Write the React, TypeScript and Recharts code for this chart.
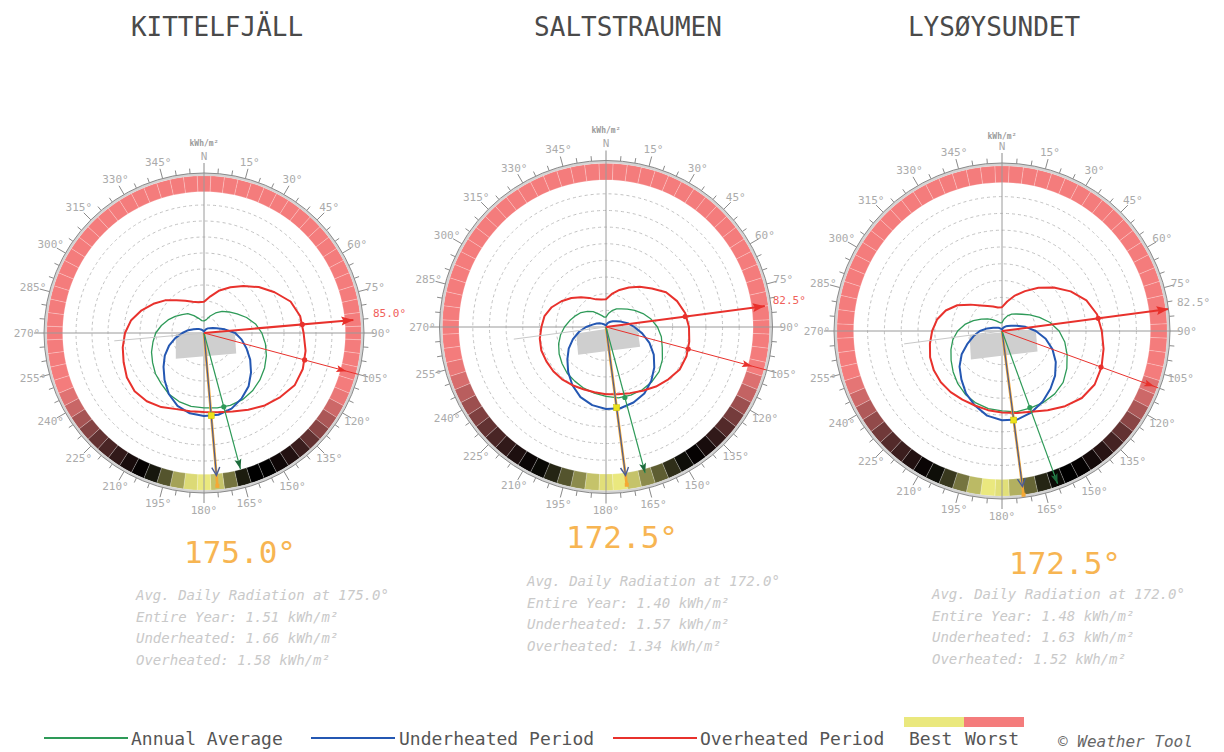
import React from 'react';
import {
  RadarChart,
  Radar,
  PolarGrid,
  PolarAngleAxis,
  PolarRadiusAxis,
  PieChart,
  Pie,
  Cell,
} from 'recharts';

const FONT = '"DejaVu Sans Mono", "Liberation Mono", monospace';

// compass bearings on the angle axis, 2.5° apart, clockwise from north
const bearings = Array.from({ length: 144 }, (_, i) => i * 2.5);
// curves are read every 10°, the colour ring every 5°
const CURVE_STEP = 10;
const RING_STEP = 5;
const RADIUS_MAX = 3;
const RING_INNER = 2.65;
const RING_OUTER = 2.95;
const radiusTicks = [0.3, 0.6, 0.9, 1.2, 1.5, 1.8, 2.1, 2.4, 2.7];
const gridCircles = [0.3, 0.6, 0.9, 1.2, 1.5, 1.8, 2.1, 2.4];

// ---- Kittelfjäll ----
const kittelAnnual = [0.24, 0.27, 0.36, 0.46, 0.56, 0.65, 0.76, 0.9, 1.04, 1.15, 1.24, 1.32, 1.39, 1.45, 1.5, 1.53, 1.53, 1.51, 1.49, 1.48, 1.45, 1.4, 1.32, 1.26, 1.18, 1.11, 1.03, 0.96, 0.86, 0.76, 0.66, 0.57, 0.5, 0.4, 0.31, 0.25];
const kittelUnder = [0.02, 0.04, 0.06, 0.09, 0.12, 0.15, 0.2, 0.27, 0.42, 0.62, 0.76, 0.9, 1.06, 1.22, 1.38, 1.5, 1.6, 1.65, 1.65, 1.62, 1.54, 1.4, 1.22, 1.05, 0.9, 0.74, 0.58, 0.43, 0.32, 0.22, 0.16, 0.12, 0.09, 0.07, 0.05, 0.03];
const kittelOver = [0.62, 0.74, 0.9, 1.05, 1.22, 1.42, 1.62, 1.83, 1.94, 1.98, 2.05, 2.09, 2.08, 1.98, 1.88, 1.76, 1.66, 1.6, 1.57, 1.58, 1.61, 1.7, 1.77, 1.8, 1.77, 1.7, 1.64, 1.57, 1.47, 1.32, 1.16, 1.01, 0.85, 0.74, 0.66, 0.62];
// 0 = worst, 1 = best, one value per 5°
const kittelRing = [
  0, 0, 0, 0, 0, 0, 0, 0, 0, 0, 0, 0, 0, 0, 0, 0, 0, 0, 0, 0, 0, 0, 0,
  0.02, 0.08, 0.15, 0.22, 0.3, 0.38, 0.43, 0.47, 0.5, 0.5, 0.56, 0.75, 0.92, 1, 0.97, 0.85, 0.68, 0.55, 0.49, 0.45, 0.4, 0.35, 0.3, 0.23, 0.16, 0.09, 0.04,
  0, 0, 0, 0, 0, 0, 0, 0, 0, 0, 0, 0, 0, 0, 0, 0, 0, 0, 0, 0, 0, 0,
];
const kittelShape = [[87.5, 0.61], [122.5, 0.76], [227.5, 0.76], [270, 0.56]];
// gray, orange, blue, green, thin red, thick red  -> [bearing, length]
const kittelRays = [[265, 1.79], [175, 3.05], [175, 2.84], [165, 2.8], [105, 3.18], [85, 2.98]];
// red dot, red dot, green dot, yellow square, red head, red head, green head, blue head, orange end
const kittelMarks = [[85, 1.96], [105, 2.07], [165, 1.52], [175, 1.65], [85, 2.98], [105, 2.93], [165, 2.8], [175, 2.84], [175, 3.05]];

// ---- Saltstraumen ----
const saltAnnual = [0.19, 0.26, 0.33, 0.4, 0.45, 0.53, 0.63, 0.75, 0.87, 0.98, 1.07, 1.14, 1.24, 1.32, 1.36, 1.38, 1.38, 1.37, 1.32, 1.28, 1.24, 1.19, 1.15, 1.09, 1.03, 0.96, 0.88, 0.79, 0.7, 0.62, 0.55, 0.46, 0.38, 0.29, 0.23, 0.19];
const saltUnder = [0.02, 0.04, 0.07, 0.1, 0.13, 0.17, 0.22, 0.3, 0.42, 0.54, 0.7, 0.88, 1.05, 1.2, 1.34, 1.46, 1.53, 1.57, 1.56, 1.51, 1.42, 1.28, 1.12, 0.96, 0.82, 0.67, 0.52, 0.38, 0.26, 0.19, 0.14, 0.1, 0.07, 0.05, 0.04, 0.03];
const saltOver = [0.53, 0.64, 0.75, 0.87, 1.0, 1.14, 1.32, 1.44, 1.53, 1.58, 1.61, 1.63, 1.62, 1.55, 1.48, 1.4, 1.34, 1.3, 1.28, 1.26, 1.26, 1.28, 1.3, 1.31, 1.31, 1.31, 1.28, 1.23, 1.19, 1.1, 0.98, 0.86, 0.74, 0.64, 0.56, 0.53];
const saltRing = [
  0, 0, 0, 0, 0, 0, 0, 0, 0, 0, 0, 0, 0, 0, 0, 0, 0, 0, 0, 0, 0, 0,
  0.05, 0.1, 0.18, 0.26, 0.33, 0.4, 0.45, 0.49, 0.53, 0.6, 0.7, 0.8, 0.92, 1, 0.98, 0.92, 0.8, 0.68, 0.58, 0.52, 0.48, 0.44, 0.4, 0.35, 0.3, 0.24, 0.18, 0.12, 0.06, 0.02,
  0, 0, 0, 0, 0, 0, 0, 0, 0, 0, 0, 0, 0, 0, 0, 0, 0, 0, 0, 0,
];
const saltShape = [[85, 0.59], [120, 0.75], [225, 0.75], [257.5, 0.58]];
const saltRays = [[262.5, 1.77], [172.5, 3.03], [172.5, 2.85], [165, 2.88], [105, 3.17], [82.5, 3.05]];
const saltMarks = [[82.5, 1.52], [105, 1.62], [165, 1.39], [172.5, 1.55], [82.5, 3.05], [105, 2.88], [165, 2.88], [172.5, 2.85], [172.5, 3.03]];

// ---- Lysøysundet ----
const lysoAnnual = [0.15, 0.22, 0.29, 0.35, 0.4, 0.47, 0.58, 0.72, 0.88, 1.03, 1.15, 1.25, 1.35, 1.44, 1.48, 1.49, 1.48, 1.48, 1.44, 1.42, 1.38, 1.32, 1.24, 1.15, 1.06, 0.98, 0.9, 0.8, 0.68, 0.55, 0.43, 0.34, 0.27, 0.21, 0.17, 0.15];
const lysoUnder = [0.02, 0.04, 0.06, 0.08, 0.11, 0.14, 0.19, 0.28, 0.43, 0.61, 0.8, 0.97, 1.12, 1.25, 1.36, 1.47, 1.56, 1.62, 1.61, 1.55, 1.43, 1.3, 1.14, 1.0, 0.84, 0.66, 0.52, 0.4, 0.27, 0.17, 0.12, 0.09, 0.07, 0.05, 0.04, 0.03];
const lysoOver = [0.43, 0.54, 0.68, 0.83, 1.02, 1.22, 1.43, 1.62, 1.74, 1.8, 1.86, 1.91, 1.93, 1.88, 1.77, 1.65, 1.55, 1.5, 1.47, 1.45, 1.43, 1.43, 1.44, 1.44, 1.42, 1.38, 1.32, 1.26, 1.19, 1.08, 0.93, 0.74, 0.6, 0.52, 0.47, 0.43];
const lysoRing = [
  0, 0, 0, 0, 0, 0, 0, 0, 0, 0, 0, 0, 0, 0, 0, 0, 0, 0, 0, 0, 0, 0,
  0.04, 0.08, 0.15, 0.22, 0.3, 0.36, 0.42, 0.46, 0.49, 0.5, 0.52, 0.58, 0.72, 0.88, 0.98, 1, 0.9, 0.75, 0.62, 0.53, 0.48, 0.43, 0.38, 0.33, 0.27, 0.2, 0.14, 0.08, 0.03,
  0, 0, 0, 0, 0, 0, 0, 0, 0, 0, 0, 0, 0, 0, 0, 0, 0, 0, 0, 0, 0,
];
const lysoShape = [[87.5, 0.61], [120, 0.74], [227.5, 0.76], [262.5, 0.59]];
const lysoRays = [[262.5, 1.78], [172.5, 2.98], [172.5, 2.83], [160, 2.93], [110, 3.0], [82.5, 3.03]];
const lysoMarks = [[82.5, 1.75], [110, 1.9], [160, 1.47], [172.5, 1.62], [82.5, 3.03], [110, 2.92], [160, 2.93], [172.5, 2.83], [172.5, 2.98]];

const RED = '#e8312c';
const BLUE = '#2457b2';
const GREEN = '#2e9a58';
const ORANGE = '#f5a834';

const RAY_STYLES = [
  { color: '#c8c8c8', width: 1 },
  { color: ORANGE, width: 2.6 },
  { color: '#4a5d95', width: 1.2 },
  { color: GREEN, width: 1.2 },
  { color: RED, width: 1 },
  { color: RED, width: 2 },
];
const MARK_STYLES = [
  { kind: 'dot', color: RED },
  { kind: 'dot', color: RED },
  { kind: 'dot', color: GREEN },
  { kind: 'square', color: '#ece21c' },
  { kind: 'head', color: RED, len: 12, half: 4.5, label: true },
  { kind: 'head', color: RED, len: 10, half: 3.5 },
  { kind: 'head', color: '#1d6b3c', len: 10, half: 3.5 },
  { kind: 'vee', color: '#4a5d95' },
  { kind: 'end', color: ORANGE },
];

const sites = [
  {
    name: 'KITTELFJÄLL', cx: 204, cy: 333, R: 160, titleX: 217, unitY: 143, labelR: 3.18, labelColor: '#f0605a',
    annual: kittelAnnual, under: kittelUnder, over: kittelOver, ring: kittelRing,
    shape: kittelShape, rays: kittelRays, marks: kittelMarks,
    best: 175.0, bestX: 240, bestY: 552,
    infoAngle: 175.0, info: [1.51, 1.66, 1.58], infoX: 136, infoY: 596,
  },
  {
    name: 'SALTSTRAUMEN', cx: 606, cy: 327, R: 166.5, titleX: 628, unitY: 130, labelR: 3.03, labelColor: '#f0605a',
    annual: saltAnnual, under: saltUnder, over: saltOver, ring: saltRing,
    shape: saltShape, rays: saltRays, marks: saltMarks,
    best: 172.5, bestX: 622, bestY: 537,
    infoAngle: 172.0, info: [1.4, 1.57, 1.34], infoX: 527, infoY: 582,
  },
  {
    name: 'LYSØYSUNDET', cx: 1002, cy: 331, R: 168, titleX: 994, unitY: 136, labelR: 3.15, labelColor: '#ababab',
    annual: lysoAnnual, under: lysoUnder, over: lysoOver, ring: lysoRing,
    shape: lysoShape, rays: lysoRays, marks: lysoMarks,
    best: 172.5, bestX: 1065, bestY: 563,
    infoAngle: 172.0, info: [1.48, 1.63, 1.52], infoX: 932, infoY: 595,
  },
];

const SIZE = 420;
const C = SIZE / 2;

function ringColor(t: number) {
  const worst = [244, 124, 124];
  const best = [234, 232, 126];
  const f = t <= 0.5 ? 1 - t / 0.5 : (t - 0.5) / 0.5;
  const base = t <= 0.5 ? worst : best;
  const c = base.map((v) => Math.round(v * f));
  return `rgb(${c[0]},${c[1]},${c[2]})`;
}

function buildRows(site: any) {
  return bearings.map((b) => {
    const row: Record<string, number | null> = { bearing: b };
    const ci = b / CURVE_STEP;
    const onCurve = Number.isInteger(ci);
    row.annual = onCurve ? site.annual[ci] : null;
    row.under = onCurve ? site.under[ci] : null;
    row.over = onCurve ? site.over[ci] : null;
    const s = site.shape.find((p: number[]) => p[0] === b);
    row.shape = s ? s[1] : null;
    site.rays.forEach(([a, len]: number[], i: number) => {
      row[`ray${i}`] = a === b ? len : null;
    });
    site.marks.forEach(([a, v]: number[], i: number) => {
      row[`mark${i}`] = a === b ? v : null;
    });
    return row;
  });
}

// keep only the points that carry a value
const validPoints = (props: any) =>
  (props.points || []).filter((p: any) => p.value != null && Number.isFinite(p.x));

const bearingOf = (p: any) => Number(p.payload?.bearing ?? p.name);

function polygonShape(stroke: string, width: number, fill: string) {
  return (props: any) => {
    const pts = validPoints(props);
    if (!pts.length) return <g />;
    const d = pts.map((p: any, i: number) => `${i ? 'L' : 'M'}${p.x},${p.y}`).join('') + 'Z';
    return <path d={d} stroke={stroke} strokeWidth={width} fill={fill} strokeLinejoin="round" />;
  };
}

function rayShape(color: string, width: number) {
  return (props: any) => {
    const pts = validPoints(props);
    return (
      <g>
        {pts.map((p: any, i: number) => (
          <line key={i} x1={p.cx ?? C} y1={p.cy ?? C} x2={p.x} y2={p.y} stroke={color} strokeWidth={width} />
        ))}
      </g>
    );
  };
}

function renderMark(p: any, st: any, site: any, k: number, key: number) {
  const b = bearingOf(p);
  const tr = `translate(${p.x},${p.y}) rotate(${b - 90})`;
  if (st.kind === 'dot') return <circle key={key} cx={p.x} cy={p.y} r={2.6} fill={st.color} />;
  if (st.kind === 'square')
    return <rect key={key} x={p.x - 3} y={p.y - 3} width={6} height={6} fill={st.color} stroke="#c9c000" strokeWidth={0.5} />;
  if (st.kind === 'end') return <rect key={key} x={p.x - 2} y={p.y - 2} width={4} height={4} fill={st.color} />;
  if (st.kind === 'vee')
    return <path key={key} d="M -8 -4 L 0 0 L -8 4" transform={tr} fill="none" stroke={st.color} strokeWidth={1.4} />;
  const rad = (b * Math.PI) / 180;
  const lr = site.labelR * k;
  return (
    <g key={key}>
      <path d={`M 0 0 L ${-st.len} ${-st.half} L ${-st.len + 2} 0 L ${-st.len} ${st.half} Z`} transform={tr} fill={st.color} />
      {st.label && (
        <text
          x={C + lr * Math.sin(rad)}
          y={C - lr * Math.cos(rad) - 5}
          fontSize={11}
          fill={site.labelColor}
          fontFamily={FONT}
          dominantBaseline="central"
        >
          {`${b.toFixed(1)}°`}
        </text>
      )}
    </g>
  );
}

function markShape(st: any, site: any, k: number) {
  return (props: any) => <g>{validPoints(props).map((p: any, i: number) => renderMark(p, st, site, k, i))}</g>;
}

function angleTick(props: any, R: number) {
  const deg = Number(props.payload.value);
  if (deg % 5 !== 0) return <g />;
  const rad = (deg * Math.PI) / 180;
  const sx = Math.sin(rad);
  const sy = -Math.cos(rad);
  const major = deg % 15 === 0;
  const r2 = R + (major ? 10 : 5);
  const lr = R + 17;
  return (
    <g>
      <line x1={C + R * sx} y1={C + R * sy} x2={C + r2 * sx} y2={C + r2 * sy} stroke="#8a8a8a" strokeWidth={1} />
      {major && (
        <text x={C + lr * sx} y={C + lr * sy} textAnchor="middle" dominantBaseline="central" fontSize={11} fill="#ababab" fontFamily={FONT}>
          {deg === 0 ? 'N' : `${deg}°`}
        </text>
      )}
    </g>
  );
}

function radiusTick(props: any) {
  const v = Number(props.payload.value);
  if (!radiusTicks.some((t) => Math.abs(t - v) < 1e-6)) return <g />;
  return (
    <text x={props.x - 2} y={props.y - 1} textAnchor="end" dominantBaseline="central" fontSize={6} fill="#b8b8b8" fontFamily={FONT}>
      {v.toFixed(2)}
    </text>
  );
}

function SitePlot({ site }: { site: any }) {
  const k = site.R / RADIUS_MAX;
  const rows = buildRows(site);
  const ringRows = site.ring.map((score: number, i: number) => ({ dir: i * RING_STEP, size: 1, score }));
  const margin = { top: 0, right: 0, bottom: 0, left: 0 };
  return (
    <div style={{ position: 'absolute', left: site.cx - C, top: site.cy - C, width: SIZE, height: SIZE }}>
      <div style={{ position: 'absolute', left: 0, top: 0 }}>
        <PieChart width={SIZE} height={SIZE} margin={margin}>
          <Pie
            data={ringRows}
            dataKey="size"
            cx={C}
            cy={C}
            innerRadius={RING_INNER * k}
            outerRadius={RING_OUTER * k}
            startAngle={90 + RING_STEP / 2}
            endAngle={90 + RING_STEP / 2 - 360}
            stroke="#ffffff"
            strokeOpacity={0.35}
            strokeWidth={0.6}
            isAnimationActive={false}
          >
            {ringRows.map((r: any, i: number) => (
              <Cell key={i} fill={ringColor(r.score)} />
            ))}
          </Pie>
          <Pie
            data={[{ size: 1 }]}
            dataKey="size"
            cx={C}
            cy={C}
            innerRadius={RING_OUTER * k}
            outerRadius={RADIUS_MAX * k}
            startAngle={90}
            endAngle={-270}
            fill="#d4d4d4"
            stroke="none"
            isAnimationActive={false}
          />
        </PieChart>
      </div>
      <div style={{ position: 'absolute', left: 0, top: 0 }}>
        <RadarChart width={SIZE} height={SIZE} cx={C} cy={C} outerRadius={site.R} data={rows} margin={margin} startAngle={90} endAngle={-270}>
          <PolarGrid gridType="circle" radialLines={false} polarAngles={[]} polarRadius={gridCircles.map((v) => v * k)} stroke="#c2c2c2" strokeDasharray="3 3" />
          <PolarGrid gridType="circle" polarAngles={[0, 90, 180, 270]} polarRadius={[]} outerRadius={site.R + 8} stroke="#9a9a9a" />
          <PolarAngleAxis dataKey="bearing" tick={(p: any) => angleTick(p, site.R)} tickLine={false} axisLine={{ stroke: '#8a8a8a', strokeWidth: 1 }} axisLineType="circle" />
          <PolarRadiusAxis angle={90} domain={[0, RADIUS_MAX]} type="number" tickCount={11} axisLine={false} tickLine={false} tick={radiusTick} />
          <Radar dataKey="shape" shape={polygonShape('none', 0, '#cfcfcf')} dot={false} isAnimationActive={false} />
          <Radar dataKey="annual" shape={polygonShape(GREEN, 1.3, 'none')} dot={false} isAnimationActive={false} />
          <Radar dataKey="under" shape={polygonShape(BLUE, 2, 'none')} dot={false} isAnimationActive={false} />
          <Radar dataKey="over" shape={polygonShape(RED, 2, 'none')} dot={false} isAnimationActive={false} />
          {RAY_STYLES.map((st, i) => (
            <Radar key={`ray${i}`} dataKey={`ray${i}`} shape={rayShape(st.color, st.width)} dot={false} isAnimationActive={false} />
          ))}
          {MARK_STYLES.map((st, i) => (
            <Radar key={`mark${i}`} dataKey={`mark${i}`} shape={markShape(st, site, k)} dot={false} isAnimationActive={false} />
          ))}
        </RadarChart>
      </div>
    </div>
  );
}

const legendItems = [
  { label: 'Annual Average', color: GREEN, lineX: 44, textX: 131 },
  { label: 'Underheated Period', color: BLUE, lineX: 311, textX: 399 },
  { label: 'Overheated Period', color: RED, lineX: 613, textX: 700 },
];

export default function App() {
  return (
    <div style={{ position: 'absolute', left: 0, top: 0, width: 1224, height: 752, background: '#fff', fontFamily: FONT, overflow: 'hidden' }}>
      {sites.map((site) => (
        <React.Fragment key={site.name}>
          <div style={{ position: 'absolute', left: site.titleX, top: 27, transform: 'translate(-50%, -50%)', fontSize: 26, color: '#4a4a4a', whiteSpace: 'nowrap' }}>
            {site.name}
          </div>
          <SitePlot site={site} />
          <div style={{ position: 'absolute', left: site.cx, top: site.unitY, transform: 'translate(-50%, -50%)', fontSize: 8, color: '#9a9a9a', fontWeight: 'bold', whiteSpace: 'nowrap' }}>
            kWh/m²
          </div>
          <div style={{ position: 'absolute', left: site.bestX, top: site.bestY, transform: 'translate(-50%, -50%)', fontSize: 31, color: '#f7b552', whiteSpace: 'nowrap' }}>
            {`${site.best.toFixed(1)}°`}
          </div>
          <div style={{ position: 'absolute', left: site.infoX, top: site.infoY - 11, fontSize: 14, lineHeight: '21.6px', fontStyle: 'italic', color: '#c9c9c9', whiteSpace: 'pre' }}>
            {`Avg. Daily Radiation at ${site.infoAngle.toFixed(1)}°\nEntire Year: ${site.info[0].toFixed(2)} kWh/m²\nUnderheated: ${site.info[1].toFixed(2)} kWh/m²\nOverheated: ${site.info[2].toFixed(2)} kWh/m²`}
          </div>
        </React.Fragment>
      ))}
      {legendItems.map((it) => (
        <React.Fragment key={it.label}>
          <div style={{ position: 'absolute', left: it.lineX, top: 737, width: 84, height: 2, background: it.color }} />
          <div style={{ position: 'absolute', left: it.textX, top: 738, transform: 'translateY(-50%)', fontSize: 18, color: '#555', whiteSpace: 'nowrap' }}>
            {it.label}
          </div>
        </React.Fragment>
      ))}
      <div style={{ position: 'absolute', left: 904, top: 717, width: 60, height: 10, background: '#eae87e' }} />
      <div style={{ position: 'absolute', left: 964, top: 717, width: 60, height: 10, background: '#f47c7c' }} />
      <div style={{ position: 'absolute', left: 909, top: 738, transform: 'translateY(-50%)', fontSize: 18, color: '#555' }}>Best</div>
      <div style={{ position: 'absolute', left: 965, top: 738, transform: 'translateY(-50%)', fontSize: 18, color: '#555' }}>Worst</div>
      <div style={{ position: 'absolute', left: 1058, top: 741, transform: 'translateY(-50%)', fontSize: 16, fontStyle: 'italic', color: '#666', whiteSpace: 'nowrap' }}>
        © Weather Tool
      </div>
    </div>
  );
}
